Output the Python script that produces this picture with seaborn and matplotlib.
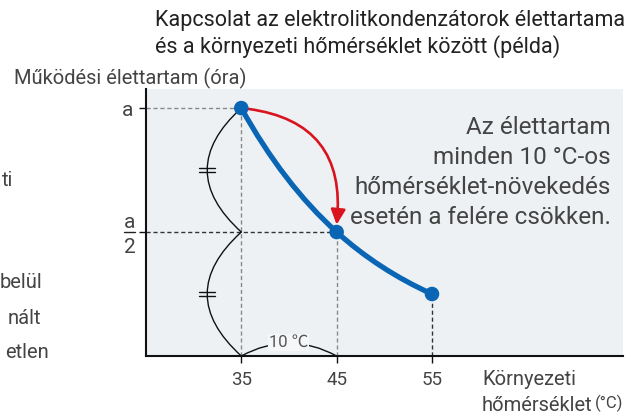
import numpy as np
import matplotlib
matplotlib.use("Agg")
import matplotlib.pyplot as plt
from matplotlib.path import Path
from matplotlib.patches import PathPatch, FancyArrowPatch
import seaborn as sns
import pandas as pd

# adatok
temps = [35, 45, 55]
life = [1.0, 0.5, 0.25]          # a, a/2, a/4
xticks = [35, 45, 55]
ytick_labels = ["a", "a/2"]

title = "Kapcsolat az elektrolitkondenzátorok élettartama\nés a környezeti hőmérséklet között (példa)"
ylabel = "Működési élettartam (óra)"
xlabel = ["Környezeti", "hőmérséklet", "(°C)"]
note = "Az élettartam\nminden 10 °C-os\nhőmérséklet-növekedés\nesetén a felére csökken."

sns.set_theme(style="white")
plt.rcParams['font.family'] = ['Roboto', 'Noto Sans CJK JP', 'DejaVu Sans']

blue = "#0a66b5"
red = "#d9141f"
bg = "#eef1f3"
txt = "#444444"

fig = plt.figure(figsize=(6.4, 4.17), dpi=100)
ax = fig.add_axes([0.228, 0.1463, 0.745, 0.6403])
ax.set_facecolor(bg)
ax.set_xlim(25, 75)
ax.set_ylim(0, 1.077)

for s in ["top", "right"]:
    ax.spines[s].set_visible(False)
for s in ["left", "bottom"]:
    ax.spines[s].set_color("#111111")
    ax.spines[s].set_linewidth(1.5)

df = pd.DataFrame({"temp": temps, "life": life})

# szaggatott segédvonalak
ax.vlines(temps[:2], 0, life[:2], colors="#888888", linestyles=(0, (3, 2)), lw=1, zorder=2)
ax.vlines(temps[2], 0, life[2], colors="#333333", linestyles=(0, (3, 2)), lw=1, zorder=2)
ax.hlines(life[0], 25, temps[0], colors="#888888", linestyles=(0, (3, 2)), lw=1, zorder=2)
ax.hlines(life[1], 25, temps[1], colors="#333333", linestyles=(0, (3, 2)), lw=1, zorder=2)

# görbe: exponenciális közelítés kvadratikus Bézier-szakaszokkal
verts = [(temps[0], life[0])]
codes = [Path.MOVETO]
for i in range(len(temps) - 1):
    x0, y0, x1, y1 = temps[i], life[i], temps[i + 1], life[i + 1]
    k = np.log(y0 / y1) / (x1 - x0)
    m0, m1 = -k * y0, -k * y1
    cx = (y1 - y0 + m0 * x0 - m1 * x1) / (m0 - m1)
    cy = y0 + m0 * (cx - x0)
    verts += [(cx, cy), (x1, y1)]
    codes += [Path.CURVE3, Path.CURVE3]
ax.add_patch(PathPatch(Path(verts, codes), fill=False, ec=blue, lw=3.8,
                       capstyle="round", zorder=4))

sns.scatterplot(data=df, x="temp", y="life", ax=ax, color=blue, s=110,
                edgecolor="none", zorder=6, legend=False)

# piros nyíl
arr = FancyArrowPatch((temps[0], life[0]), (temps[1], life[1] + 0.03),
                      connectionstyle="arc3,rad=-0.5",
                      arrowstyle="-|>,head_length=0.45,head_width=0.22",
                      mutation_scale=20, color=red, lw=1.9, shrinkA=5, shrinkB=0,
                      zorder=5)
ax.add_patch(arr)

# zárójelek (egyenlő szakaszok)
def brace(p1, p2, rad, mark=False):
    ax.add_patch(FancyArrowPatch(p1, p2, connectionstyle=f"arc3,rad={rad}",
                                 arrowstyle="-", color="#111111", lw=1,
                                 shrinkA=0, shrinkB=0, zorder=3))
    if mark:
        d1 = ax.transData.transform(p1)
        d2 = ax.transData.transform(p2)
        mid = (d1 + d2) / 2
        dx, dy = d2 - d1
        apex = mid + rad / 2 * np.array([dy, -dx])
        inv = ax.transData.inverted()
        for off in (-1.6, 1.6):
            a = inv.transform(apex + np.array([-8, off]))
            b = inv.transform(apex + np.array([8, off]))
            ax.plot([a[0], b[0]], [a[1], b[1]], color="#111111", lw=1, zorder=3)

brace((temps[0], life[0]), (temps[0], life[1]), 0.55, mark=True)
brace((temps[0], life[1]), (temps[0], 0), 0.55, mark=True)
brace((temps[0], 0), (temps[1], 0), -0.27)
ax.text((temps[0] + temps[1]) / 2, 0.055, "10 ℃", ha="center", va="center",
        fontsize=12, color="#555555", zorder=4,
        bbox=dict(boxstyle="square,pad=0.05", fc="#f5f7f9", ec="none"))

# tengelyek
ax.set_xticks(xticks)
ax.set_xticklabels([str(t) for t in xticks], fontsize=13.5, color=txt)
ax.set_yticks(life[:2])
ax.set_yticklabels([ytick_labels[0], ""], fontsize=15, color=txt)
ax.tick_params(axis="x", direction="out", length=5, width=1, color="#111111",
               bottom=True, pad=6)
ax.tick_params(axis="y", direction="out", length=5, width=1, color="#111111",
               left=True, pad=4)
ax.set_xlabel("")
ax.set_ylabel("")

# a/2 tört
ytr = ax.get_yaxis_transform()
ax.text(-0.034, 0.516, "a", transform=ytr, ha="center", va="baseline",
        fontsize=15, color=txt)
ax.text(-0.034, 0.415, "2", transform=ytr, ha="center", va="baseline",
        fontsize=15, color=txt)
ax.plot([-0.046, -0.023], [life[1], life[1]], transform=ytr,
        color="#222222", lw=1, clip_on=False)

ax.text(0.975, 0.899, note, transform=ax.transAxes, ha="right", va="top",
        fontsize=17.5, color=txt, linespacing=1.39)

fig.text(0.242, 0.975, title, ha="left", va="top", fontsize=15.5, color="#222222",
         linespacing=1.21)
fig.text(0.022, 0.813, ylabel, ha="left", va="center", fontsize=14.5, color=txt)

# x tengely címe két sorban, kisebb mértékegységgel
fig.text(0.753, 1 - 385 / 417, xlabel[0], ha="left", va="baseline", fontsize=14.5, color=txt)
t2 = fig.text(0.753, 1 - 411 / 417, xlabel[1], ha="left", va="baseline", fontsize=14.5, color=txt)
ax.annotate(xlabel[2], xy=(1, 0), xycoords=t2, xytext=(2, 2.5), textcoords="offset points",
            ha="left", va="bottom", fontsize=12, color=txt, annotation_clip=False)

# levágott szövegtöredékek a bal szélen
for s, x, y in [("ti", 13, 180), ("belül", 42, 283), ("nált", 41, 318), ("etlen", 49, 352)]:
    fig.text(x / 640, 1 - y / 417, s, ha="right", va="center", fontsize=14.5, color=txt)

fig.savefig("out.png", dpi=100)
